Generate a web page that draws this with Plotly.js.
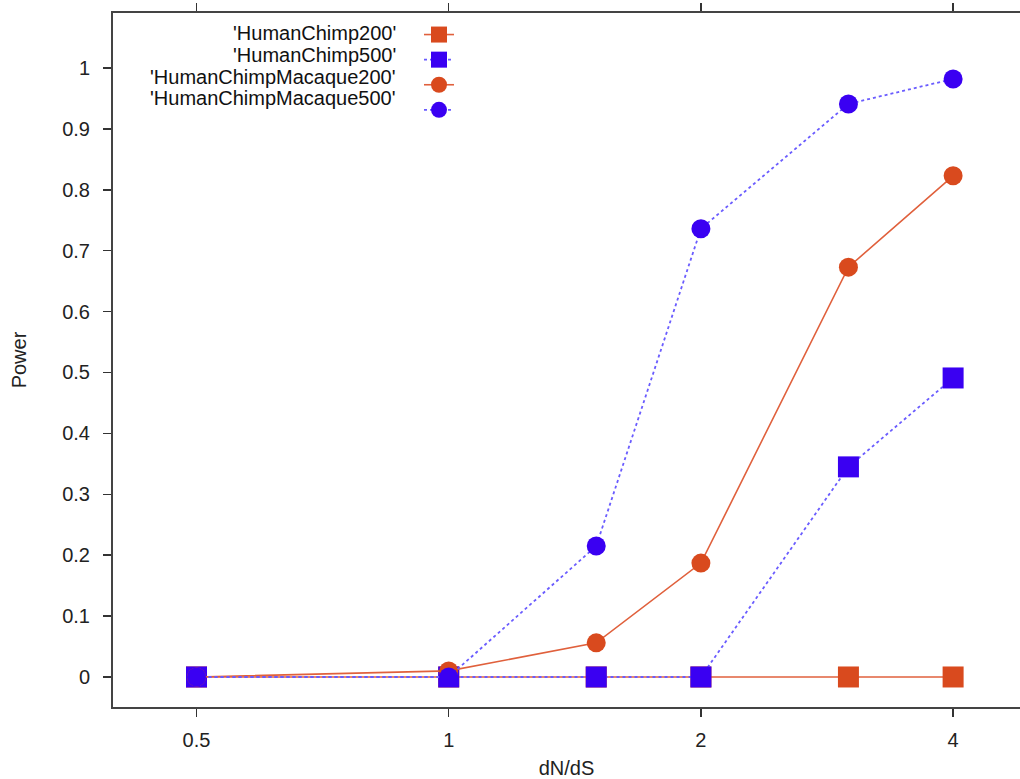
<!DOCTYPE html>
<html>
<head>
<meta charset="utf-8">
<script src="https://cdn.plot.ly/plotly-3.0.1.min.js"></script>
<style>html,body{margin:0;padding:0;background:#fff;}#chart{width:1020px;height:779px;}</style>
</head>
<body>
<div id="chart"></div>
<script>
// ---- data ----
const dnds = [0.5, 1, 1.5, 2, 3, 4];
const humanChimp200 = [0, 0, 0, 0, 0, 0];
const humanChimp500 = [0, 0, 0, 0, 0.345, 0.491];
const humanChimpMacaque200 = [0, 0.01, 0.056, 0.187, 0.673, 0.823];
const humanChimpMacaque500 = [0, 0, 0.215, 0.736, 0.941, 0.982];
const seriesNames = ["'HumanChimp200'", "'HumanChimp500'", "'HumanChimpMacaque200'", "'HumanChimpMacaque500'"];
const xTickVals = [0.5, 1, 2, 4];
const xTickText = ['0.5', '1', '2', '4'];
const xTitle = 'dN/dS';
const yTitle = 'Power';

const ORANGE = '#d94a1e';
const BLUE = '#3a00f2';
const ORANGE_LINE = '#e0603c';
const BLUE_LINE = '#6a5cff';
const FONT = 'Liberation Sans, Arial, sans-serif';

function tr(y, color, lineColor, dash, symbol) {
  return {
    x: dnds, y: y, type: 'scatter', mode: 'lines+markers', name: ' ',
    line: {color: lineColor, width: dash === 'solid' ? 1.6 : 1.8, dash: dash},
    marker: {color: color, size: symbol === 'square' ? 21 : 19, symbol: symbol, line: {width: 0}},
    cliponaxis: false
  };
}

const data = [
  tr(humanChimp200, ORANGE, ORANGE_LINE, 'solid', 'square'),
  tr(humanChimp500, BLUE, BLUE_LINE, 'dot', 'square'),
  tr(humanChimpMacaque200, ORANGE, ORANGE_LINE, 'solid', 'circle'),
  tr(humanChimpMacaque500, BLUE, BLUE_LINE, 'dot', 'circle')
];

const L = 113, W = 1020 - 113, T = 13, H = 707 - 13;
const rowsPx = [33, 55, 77, 98];
const annotations = seriesNames.map((n, i) => ({
  text: n, xref: 'paper', yref: 'paper', x: (398 - L) / W, y: 1 - (rowsPx[i] - T) / H,
  xanchor: 'right', yanchor: 'middle', showarrow: false,
  font: {family: FONT, size: 20, color: '#111'}
}));

const layout = {
  width: 1020, height: 779,
  margin: {l: L, r: 0, t: T, b: 779 - 707, pad: 0},
  paper_bgcolor: '#fff', plot_bgcolor: '#fff',
  font: {family: FONT, size: 20, color: '#222'},
  showlegend: true,
  legend: {
    x: (419 - L) / W, y: 1 - (17 - T) / H, xanchor: 'left', yanchor: 'top',
    bgcolor: 'rgba(0,0,0,0)', borderwidth: 0, font: {size: 17, family: FONT},
    itemsizing: 'trace', tracegroupgap: 0
  },
  xaxis: {
    type: 'log', range: [-0.4007, 0.6819],
    tickvals: xTickVals, ticktext: xTickText,
    ticks: 'outside', ticklen: 8, tickwidth: 1.5, tickcolor: '#333',
    showline: true, linecolor: '#444', linewidth: 2, mirror: 'ticks',
    showgrid: false, zeroline: false, ticklabelstandoff: 6,
    tickfont: {family: FONT, size: 20, color: '#222'},
    title: {text: xTitle, font: {family: FONT, size: 20, color: '#222'}, standoff: 20}
  },
  yaxis: {
    range: [-0.0493, 1.0903], tick0: 0, dtick: 0.1,
    ticks: 'outside', ticklen: 8, tickwidth: 1.5, tickcolor: '#333',
    showline: true, linecolor: '#444', linewidth: 2, mirror: false,
    showgrid: false, zeroline: false, ticklabelstandoff: 9,
    tickfont: {family: FONT, size: 20, color: '#222'},
    title: {text: yTitle, font: {family: FONT, size: 20, color: '#222'}, standoff: 30}
  },
  annotations: annotations
};

Plotly.newPlot('chart', data, layout, {displayModeBar: false, staticPlot: true});
</script>
</body>
</html>
